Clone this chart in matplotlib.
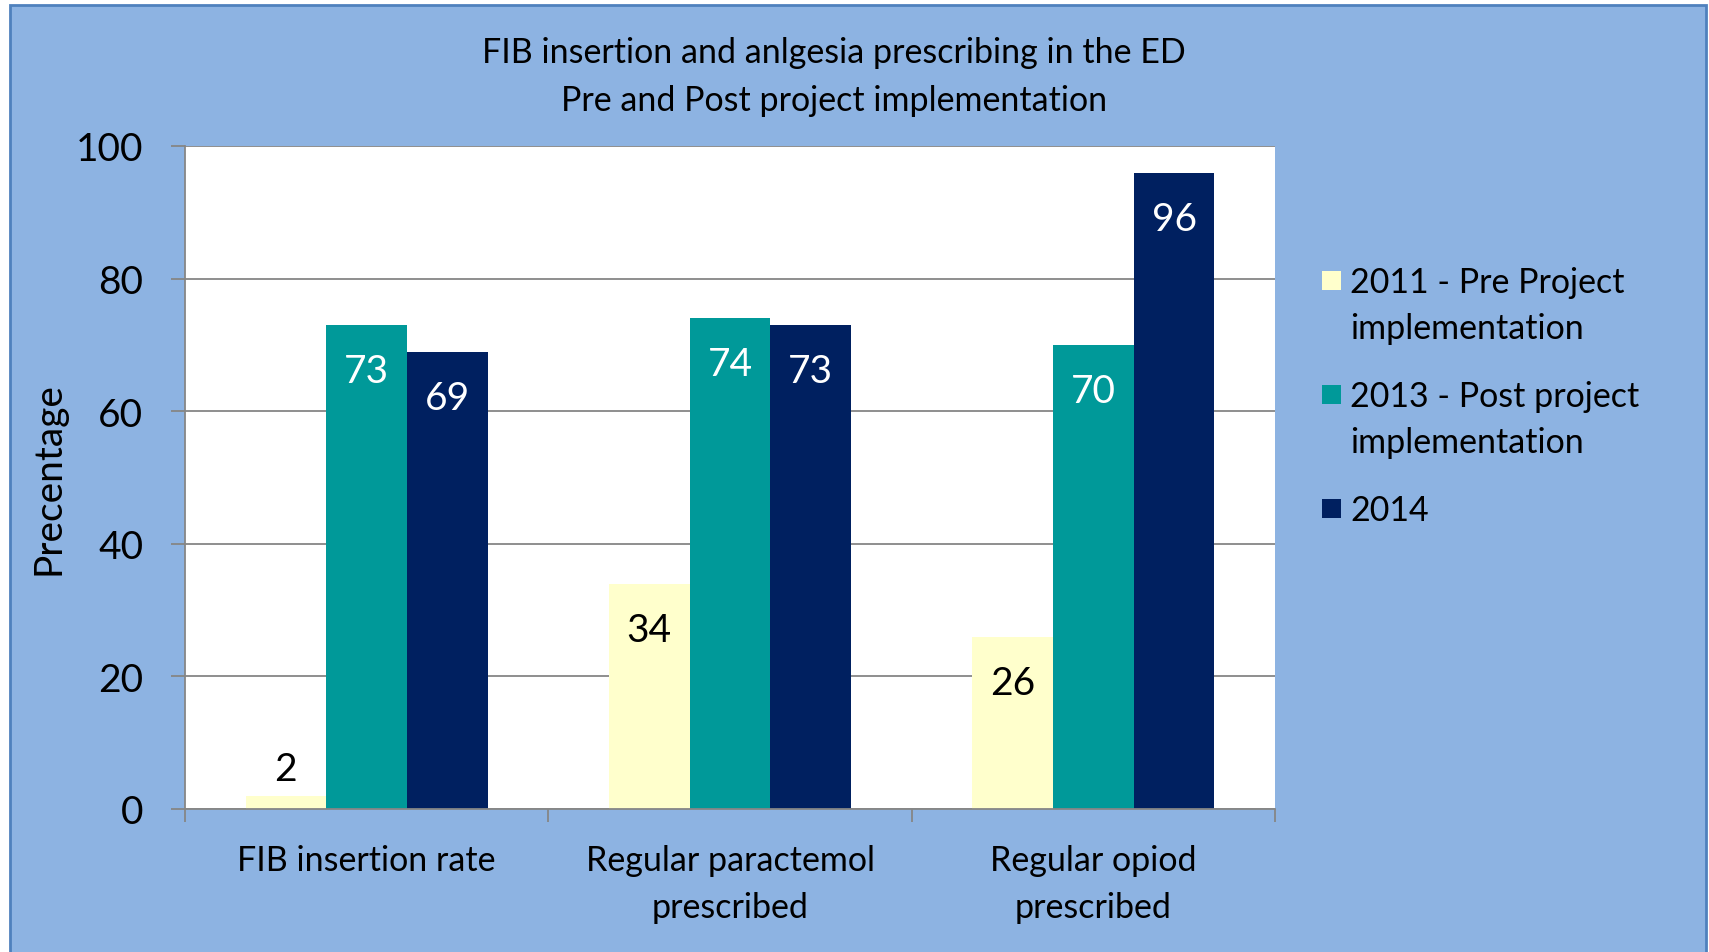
import matplotlib
matplotlib.use("Agg")

import numpy as np
import matplotlib.pyplot as plt
from matplotlib.patches import Rectangle

# ── Data ─────────────────────────────────────────────────────────────────────
CATEGORIES = ["FIB insertion rate", "Regular paractemol\nprescribed", "Regular opiod\nprescribed"]
SERIES     = ["2011 - Pre Project\nimplementation", "2013 - Post project\nimplementation", "2014"]
VALS_2011  = [2, 34, 26]
VALS_2013  = [73, 74, 70]
VALS_2014  = [69, 73, 96]
Y_TICKS    = [0, 20, 40, 60, 80, 100]

# ── Style ────────────────────────────────────────────────────────────────────
COLORS     = ["#FFFFCC", "#009999", "#002060"]
LABEL_COLS = ["black", "white", "white"]
BG_BLUE    = "#8DB3E2"
BORDER     = "#4F81BD"
GRID_GRAY  = "#868686"
FONT       = "Lato"
BIG        = 28
MID        = 24.5
W_PX, H_PX = 1709, 953
DPI        = 100

plt.rcParams["font.family"] = [FONT, "DejaVu Sans"]

fig = plt.figure(figsize=(W_PX / DPI, H_PX / DPI), dpi=DPI, facecolor="white")

# chart area background with border (behind everything)
fig.patches.append(Rectangle((10 / W_PX, -0.02), (1706 - 10) / W_PX, (H_PX - 6) / H_PX + 0.02,
                             transform=fig.transFigure, facecolor=BG_BLUE,
                             edgecolor=BORDER, linewidth=2, zorder=-10))

left, right, top, bottom = 185, 1275, 147, 810
ax = fig.add_axes([left / W_PX, 1 - bottom / H_PX, (right - left) / W_PX, (bottom - top) / H_PX])
ax.set_zorder(1)
ax.set_facecolor("white")

n = len(CATEGORIES)
x = np.arange(n)
bw = 1 / 4.5
all_vals = [VALS_2011, VALS_2013, VALS_2014]
px_per_unit = (bottom - top) / 100.0

for i, (vals, col) in enumerate(zip(all_vals, COLORS)):
    xs = x + (i - 1) * bw
    ax.bar(xs, vals, width=bw, color=col, zorder=2, linewidth=0)
    for xi, v in zip(xs, vals):
        if v * px_per_unit > 88:
            ax.annotate(str(v), (xi, v), xytext=(0, -46), textcoords="offset pixels",
                        ha="center", va="center", fontsize=BIG, color=LABEL_COLS[i], zorder=3)
        else:
            ax.annotate(str(v), (xi, 0), xytext=(0, 40), textcoords="offset pixels",
                        ha="center", va="center", fontsize=BIG, color=LABEL_COLS[i], zorder=3)

ax.set_xlim(-0.5, n - 0.5)
ax.set_ylim(0, 100)
ax.set_yticks(Y_TICKS)
ax.set_yticklabels([str(t) for t in Y_TICKS], fontsize=BIG)
ax.yaxis.grid(True, color=GRID_GRAY, linewidth=1.3, zorder=1)
ax.set_axisbelow(True)

# group boundary ticks, category labels in between
ax.set_xticks(np.arange(n + 1) - 0.5)
ax.set_xticklabels([])
ax.set_xticks(x, minor=True)
ax.set_xticklabels(CATEGORIES, minor=True, fontsize=MID, linespacing=1.6)
ax.tick_params(axis="x", which="minor", length=0, pad=25)
ax.tick_params(axis="x", which="major", length=9, width=1.3, color=GRID_GRAY)
ax.tick_params(axis="y", length=10, width=1.3, color=GRID_GRAY, pad=20)

for s in ["top", "right"]:
    ax.spines[s].set_visible(False)
for s in ["left", "bottom"]:
    ax.spines[s].set_color(GRID_GRAY)
    ax.spines[s].set_linewidth(1.3)

ax.text(-0.125, 0.5, "Precentage", transform=ax.transAxes, rotation=90,
        ha="center", va="center", fontsize=BIG)

# title
fig.text(834 / W_PX, 1 - 77 / H_PX,
         "FIB insertion and anlgesia prescribing in the ED\nPre and Post project implementation",
         ha="center", va="center", fontsize=MID, linespacing=1.58)

# legend, Excel style (marker beside first line)
LINE_PITCH = 46
y_px = 281
for lab, col in zip(SERIES, COLORS):
    fig.patches.append(Rectangle((1322 / W_PX, 1 - (y_px + 10) / H_PX), 19 / W_PX, 19 / H_PX,
                                 transform=fig.transFigure, facecolor=col, edgecolor="none"))
    for k, line in enumerate(lab.split("\n")):
        fig.text(1350 / W_PX, 1 - (y_px + k * LINE_PITCH + 12) / H_PX, line,
                 ha="left", va="baseline", fontsize=MID)
    y_px += LINE_PITCH * lab.count("\n") + 68

fig.savefig("out.png", dpi=DPI, facecolor=fig.get_facecolor())
